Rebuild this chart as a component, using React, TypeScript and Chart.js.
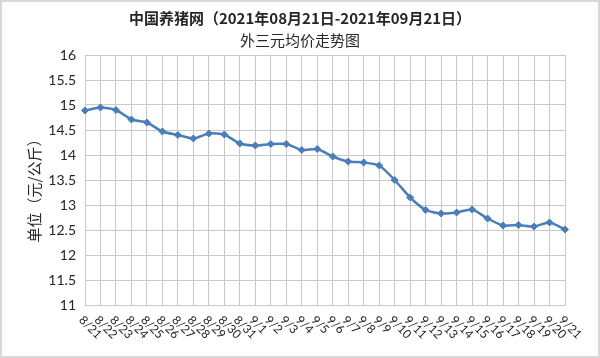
import React, { useEffect, useRef } from "react";
import { Chart, registerables } from "chart.js";

Chart.register(...registerables);

const titleLine1 = "中国养猪网（2021年08月21日-2021年09月21日）";
const titleLine2 = "外三元均价走势图";
const yAxisTitle = "单位（元/公斤）";

const dates = [
  "8/21", "8/22", "8/23", "8/24", "8/25", "8/26", "8/27", "8/28", "8/29", "8/30", "8/31",
  "9/1", "9/2", "9/3", "9/4", "9/5", "9/6", "9/7", "9/8", "9/9", "9/10",
  "9/11", "9/12", "9/13", "9/14", "9/15", "9/16", "9/17", "9/18", "9/19", "9/20", "9/21",
];

const prices = [
  14.89, 14.95, 14.9, 14.71, 14.65, 14.47, 14.4, 14.33, 14.43, 14.41, 14.23,
  14.19, 14.22, 14.22, 14.1, 14.12, 13.97, 13.87, 13.85, 13.79, 13.5,
  13.15, 12.9, 12.83, 12.85, 12.91, 12.73, 12.59, 12.6, 12.57, 12.65, 12.51,
];

const yMin = 11;
const yMax = 16;
const yStep = 0.5;

const textColor = "#262626";
const gridColor = "#c8c8c8";
const lineColor = "#4a7ebb";

const decorPlugin = {
  id: "decor",
  beforeDraw(chart: any) {
    const ctx = chart.ctx;
    ctx.save();
    ctx.fillStyle = "#ffffff";
    ctx.fillRect(0, 0, chart.width, chart.height);
    ctx.restore();
  },
  afterDraw(chart: any) {
    const ctx = chart.ctx;
    const xs = chart.scales.x;
    const area = chart.chartArea;
    ctx.save();
    // frame
    ctx.strokeStyle = "#d9d9d9";
    ctx.lineWidth = 2;
    ctx.strokeRect(1, 1, chart.width - 2, chart.height - 2);
    // title
    ctx.fillStyle = textColor;
    ctx.textAlign = "center";
    ctx.textBaseline = "middle";
    ctx.font = "bold 15px 'Noto Sans CJK SC', 'Liberation Sans', sans-serif";
    ctx.fillText(titleLine1, 300, 18);
    ctx.font = "15px 'Noto Sans CJK SC', sans-serif";
    ctx.fillText(titleLine2, 300, 40);
    // y axis title
    ctx.save();
    ctx.translate(34, 187);
    ctx.rotate(-Math.PI / 2);
    ctx.font = "15px 'Noto Sans CJK SC', sans-serif";
    ctx.fillText(yAxisTitle, 0, 0);
    ctx.restore();
    // rotated x labels
    ctx.font = "12px Lato, 'Liberation Sans', sans-serif";
    ctx.textAlign = "left";
    ctx.textBaseline = "middle";
    dates.forEach((d, i) => {
      const x = xs.getPixelForValue(i);
      ctx.save();
      ctx.translate(x - 4, area.bottom + 13);
      ctx.rotate(Math.PI / 4);
      ctx.fillText(d, 0, 0);
      ctx.restore();
    });
    ctx.restore();
  },
};

export default function App() {
  const ref = useRef<HTMLCanvasElement | null>(null);
  useEffect(() => {
    if (!ref.current) return;
    const chart = new Chart(ref.current, {
      type: "line",
      data: {
        labels: dates,
        datasets: [
          {
            data: prices,
            borderColor: lineColor,
            backgroundColor: lineColor,
            borderWidth: 2.5,
            pointStyle: "rectRot",
            pointRadius: 3.5,
            pointBorderWidth: 1,
            tension: 0.2,
          },
        ],
      },
      options: {
        animation: false,
        responsive: false,
        devicePixelRatio: 1,
        layout: { padding: { left: 0, right: 35, top: 55, bottom: 0 } },
        plugins: {
          legend: { display: false },
          tooltip: { enabled: false },
          title: { display: false },
        },
        scales: {
          x: {
            offset: false,
            ticks: { display: false },
            grid: { color: gridColor, lineWidth: 1, drawTicks: false },
            border: { color: gridColor },
            afterFit: (s: any) => {
              s.height = 53;
            },
          },
          y: {
            min: yMin,
            max: yMax,
            ticks: {
              stepSize: yStep,
              padding: 9,
              color: textColor,
              font: { family: "Lato, 'Liberation Sans', sans-serif", size: 14 },
              callback: (v: any) => String(Number(v)),
            },
            grid: { color: gridColor, lineWidth: 1, drawTicks: false },
            border: { color: gridColor },
            afterFit: (s: any) => {
              s.width = 85;
            },
          },
        },
      },
      plugins: [decorPlugin],
    });
    return () => chart.destroy();
  }, []);
  return (
    <div style={{ position: "fixed", left: 0, top: 0, width: 600, height: 358 }}>
      <canvas ref={ref} width={600} height={358} style={{ display: "block" }} />
    </div>
  );
}
